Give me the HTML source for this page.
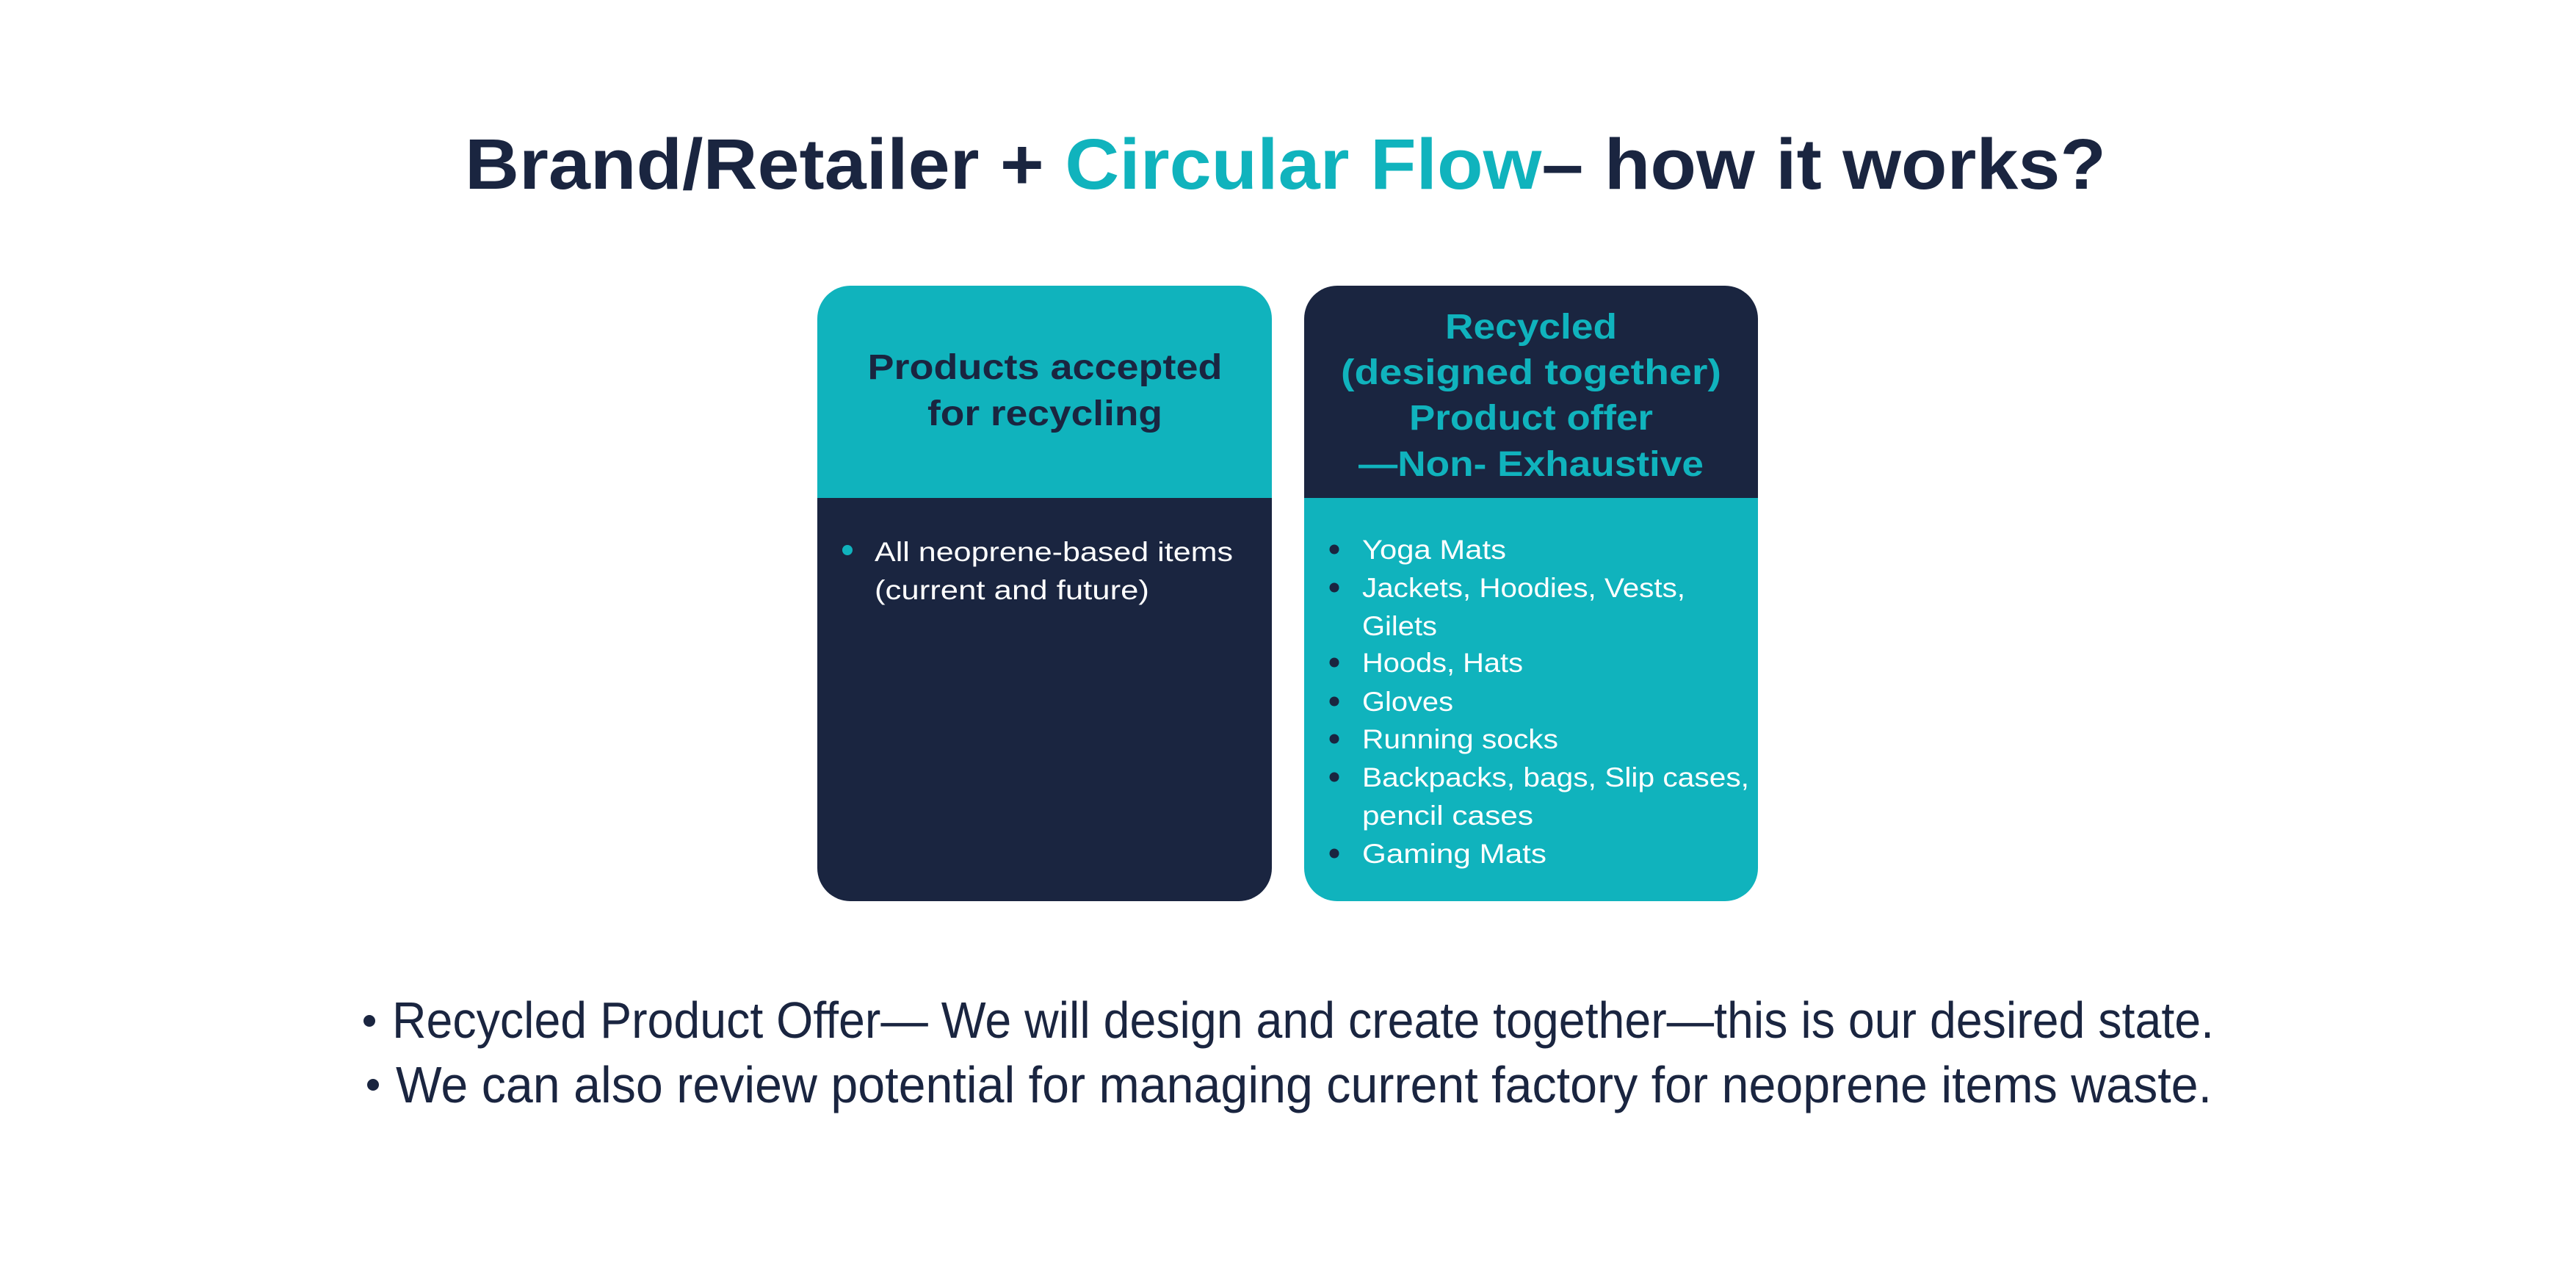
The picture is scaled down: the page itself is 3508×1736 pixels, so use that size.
<!DOCTYPE html>
<html><head><meta charset="utf-8"><style>
html,body{margin:0;padding:0;background:#fff;}
svg{display:block;}
</style></head><body>
<svg width="3508" height="1736" viewBox="0 0 3508 1736" xmlns="http://www.w3.org/2000/svg" font-family="'Liberation Sans', sans-serif">
<rect width="3508" height="1736" fill="#ffffff"/>
<text x="633" y="257" font-size="97" font-weight="bold" fill="#1a2540" textLength="2235" lengthAdjust="spacingAndGlyphs">Brand/Retailer + <tspan fill="#10b3bd">Circular Flow</tspan>– how it works?</text>

<!-- left card -->
<path d="M1113 678 V434 A45 45 0 0 1 1158 389 H1687 A45 45 0 0 1 1732 434 V678 Z" fill="#10b3bd"/>
<path d="M1113 678 H1732 V1182 A45 45 0 0 1 1687 1227 H1158 A45 45 0 0 1 1113 1182 Z" fill="#1a2540"/>
<g font-size="48" font-weight="bold" fill="#1a2540" text-anchor="middle">
<text x="1423" y="516" textLength="483" lengthAdjust="spacingAndGlyphs">Products accepted</text>
<text x="1423" y="579" textLength="320" lengthAdjust="spacingAndGlyphs">for recycling</text>
</g>
<circle cx="1154" cy="749" r="7" fill="#10b3bd"/>
<g font-size="37" fill="#ffffff">
<text x="1191" y="764" textLength="488" lengthAdjust="spacingAndGlyphs">All neoprene-based items</text>
<text x="1191" y="816" textLength="374" lengthAdjust="spacingAndGlyphs">(current and future)</text>
</g>

<!-- right card -->
<path d="M1776 678 V434 A45 45 0 0 1 1821 389 H2349 A45 45 0 0 1 2394 434 V678 Z" fill="#1a2540"/>
<path d="M1776 678 H2394 V1182 A45 45 0 0 1 2349 1227 H1821 A45 45 0 0 1 1776 1182 Z" fill="#10b3bd"/>
<g font-size="48" font-weight="bold" fill="#10b3bd" text-anchor="middle">
<text x="2085" y="461" textLength="234" lengthAdjust="spacingAndGlyphs">Recycled</text>
<text x="2085" y="523" textLength="518" lengthAdjust="spacingAndGlyphs">(designed together)</text>
<text x="2085" y="585" textLength="332" lengthAdjust="spacingAndGlyphs">Product offer</text>
<text x="2085" y="648" textLength="470" lengthAdjust="spacingAndGlyphs">—Non- Exhaustive</text>
</g>
<g fill="#1a2540">
<circle cx="1817" cy="748" r="6.5"/><circle cx="1817" cy="800" r="6.5"/><circle cx="1817" cy="902" r="6.5"/>
<circle cx="1817" cy="955" r="6.5"/><circle cx="1817" cy="1006" r="6.5"/><circle cx="1817" cy="1058" r="6.5"/>
<circle cx="1817" cy="1162" r="6.5"/>
</g>
<g font-size="37" fill="#ffffff">
<text x="1855" y="761" textLength="196" lengthAdjust="spacingAndGlyphs">Yoga Mats</text>
<text x="1855" y="813" textLength="440" lengthAdjust="spacingAndGlyphs">Jackets, Hoodies, Vests,</text>
<text x="1855" y="865" textLength="102" lengthAdjust="spacingAndGlyphs">Gilets</text>
<text x="1855" y="915" textLength="219" lengthAdjust="spacingAndGlyphs">Hoods, Hats</text>
<text x="1855" y="968" textLength="124" lengthAdjust="spacingAndGlyphs">Gloves</text>
<text x="1855" y="1019" textLength="267" lengthAdjust="spacingAndGlyphs">Running socks</text>
<text x="1855" y="1071" textLength="527" lengthAdjust="spacingAndGlyphs">Backpacks, bags, Slip cases,</text>
<text x="1855" y="1123" textLength="233" lengthAdjust="spacingAndGlyphs">pencil cases</text>
<text x="1855" y="1175" textLength="251" lengthAdjust="spacingAndGlyphs">Gaming Mats</text>
</g>

<!-- bottom -->
<g fill="#1a2540">
<circle cx="503" cy="1390" r="8"/>
<circle cx="508" cy="1477" r="8"/>
</g>
<g font-size="70" fill="#1a2540">
<text x="534" y="1413" textLength="2481" lengthAdjust="spacingAndGlyphs">Recycled Product Offer— We will design and create together—this is our desired state.</text>
<text x="539" y="1501" textLength="2473" lengthAdjust="spacingAndGlyphs">We can also review potential for managing current factory for neoprene items waste.</text>
</g>
</svg>
</body></html>
